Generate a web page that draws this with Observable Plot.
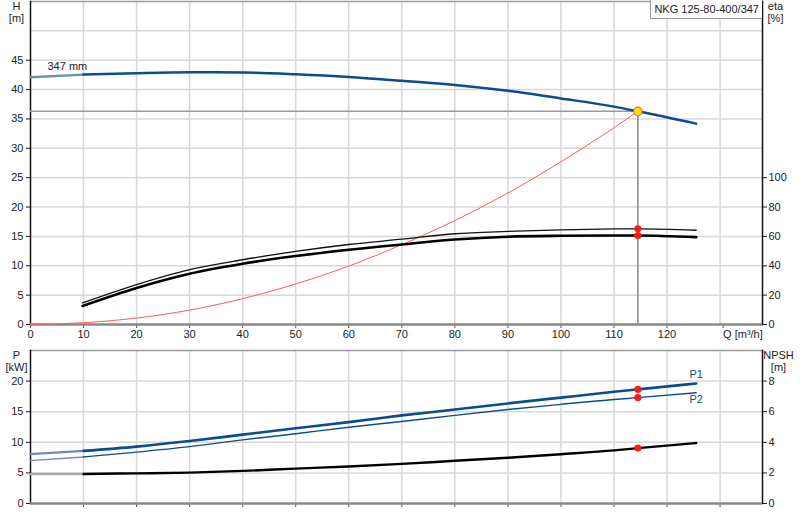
<!DOCTYPE html>
<html>
<head>
<meta charset="utf-8">
<script src="https://cdn.jsdelivr.net/npm/d3@7"></script>
<script src="https://cdn.jsdelivr.net/npm/@observablehq/plot@0.6"></script>
<style>
  body { margin: 0; background: white; }
  #chart { position: relative; width: 800px; height: 520px; font-family: "Liberation Sans", Arial, sans-serif; }
  #chart svg { position: absolute; left: 0; }
  #tag { position: absolute; right: 38px; top: 0px; height: 18px; border: 1px solid #999; border-top: none; border-right: none;
         padding: 0 3px; white-space: nowrap; font-size: 11px; line-height: 18px; color: #222; background: white; }
</style>
</head>
<body>
<div id="chart"></div>
<script>
// ---------- data ----------
const modelName = "NKG 125-80-400/347";
const impellerLabel = "347 mm";
const qDomain = [0, 138];
const qTicks = [0, 10, 20, 30, 40, 50, 60, 70, 80, 90, 100, 110, 120];
const qGrid = [10, 20, 30, 40, 50, 60, 70, 80, 90, 100, 110, 120, 130];
const hDomain = [0, 55];
const hTicks = [0, 5, 10, 15, 20, 25, 30, 35, 40, 45];
const hGrid = [5, 10, 15, 20, 25, 30, 35, 40, 45, 50];
const etaTicks = [0, 20, 40, 60, 80, 100];
const pDomain = [0, 25];
const pTicks = [0, 5, 10, 15, 20];
const npshTicks = [0, 2, 4, 6, 8];

// Q-H curve
const Q_H = [0, 10, 20, 30, 40, 50, 60, 70, 80, 90, 100, 110, 114.5, 125.5];
const H   = [42.1, 42.55, 42.8, 42.95, 42.9, 42.6, 42.15, 41.5, 40.8, 39.8, 38.5, 37.1, 36.3, 34.2];

// system curve
const Q_sys = [0, 10, 20, 30, 40, 50, 60, 70, 80, 90, 100, 110, 114.5];
const H_sys = [0, 0.3, 1.1, 2.45, 4.4, 6.9, 9.95, 13.6, 17.7, 22.4, 27.7, 33.5, 36.3];

// efficiency curves [%]
const Q_eta = [9.8, 20, 30, 40, 50, 60, 70, 80, 90, 100, 110, 114.5, 125.5];
const etaThin  = [14.7, 27.2, 37.4, 44.1, 49.8, 54.5, 58.1, 61.8, 63.4, 64.5, 65.1, 65.2, 64.2];
const etaThick = [12.6, 24.9, 34.6, 41.4, 46.6, 50.9, 54.5, 57.9, 59.8, 60.4, 60.6, 60.6, 59.5];

// power and NPSH
const Q_P = [0, 10, 20, 30, 40, 50, 60, 70, 80, 90, 100, 110, 114.5, 125.5];
const P1  = [8.06, 8.6, 9.3, 10.2, 11.25, 12.3, 13.3, 14.4, 15.35, 16.35, 17.3, 18.25, 18.65, 19.6];
const P2  = [7.0, 7.6, 8.4, 9.3, 10.4, 11.4, 12.45, 13.4, 14.4, 15.35, 16.2, 17.0, 17.3, 18.1];
const NPSH = [1.93, 1.93, 1.97, 2.02, 2.13, 2.28, 2.42, 2.59, 2.79, 2.99, 3.22, 3.47, 3.62, 3.95];

// operating point
const opQ = 114.5;
const opH = 36.3;
const opEta = [65.2, 60.6];
const opP = [18.65, 17.3];
const opNPSH = 3.62;

// ---------- helpers ----------
const etaToH = 25 / 100;     // eta 100 % aligns with H 25 m
const npshToP = 25 / 10;     // NPSH 10 m aligns with P 25 kW
const rows = (xs, ys, k = 1) => xs.map((x, i) => ({x, y: ys[i] * k}));
const blue = "#0b4c8c", blueLight = "#6f8cb3";
const gridH = {x1: qDomain[0], x2: qDomain[1], stroke: "#d8d8d8", strokeWidth: 1.5};
const fontStyle = {fontFamily: "'Liberation Sans', Arial, sans-serif", fontSize: "11px", color: "#222", background: "transparent"};

const hRows = rows(Q_H, H);
const p1Rows = rows(Q_P, P1), p2Rows = rows(Q_P, P2), npRows = rows(Q_P, NPSH, npshToP);
const early = r => r.x <= 10, late = r => r.x >= 10;

// ---------- top chart ----------
const topPlot = Plot.plot({
  width: 800, height: 345,
  marginTop: 1, marginLeft: 30, marginRight: 38, marginBottom: 21,
  x: {domain: qDomain},
  y: {domain: hDomain},
  style: fontStyle,
  marks: [
    Plot.ruleX(qGrid, {y1: hDomain[0], y2: hDomain[1], stroke: "#d8d8d8", strokeWidth: 1.5}),
    Plot.ruleY(hGrid, gridH),
    Plot.frame({anchor: "top", stroke: "#999", strokeWidth: 1.5}),
    Plot.axisY(hTicks, {anchor: "left", tickSize: 4, tickPadding: 3, label: null, stroke: "#222"}),
    Plot.axisY(etaTicks.map(e => e * etaToH), {anchor: "right", tickSize: 4, tickPadding: 2, label: null,
      tickFormat: d => Math.round(d / etaToH), stroke: "#222"}),
    Plot.axisX(qTicks, {tickSize: 4, tickPadding: 2, label: null, stroke: "#555"}),
    Plot.axisX([130], {tickSize: 4, tickPadding: 2, label: null, tickFormat: () => "Q [m³/h]", textAnchor: "start", dx: 3, stroke: "#555"}),
    Plot.frame({anchor: "left", stroke: "#111", strokeWidth: 1.5}),
    Plot.frame({anchor: "right", stroke: "#111", strokeWidth: 1.5}),
    Plot.ruleY([0], {x1: qDomain[0], x2: qDomain[1], stroke: "#888", strokeWidth: 2.5}),
    // operating point guides
    Plot.ruleY([opH], {x1: 0, x2: opQ, stroke: "#999", strokeWidth: 1.5}),
    Plot.ruleX([opQ], {y1: 0, y2: opH, stroke: "#888", strokeWidth: 1.5}),
    // system curve
    Plot.line(rows(Q_sys, H_sys), {x: "x", y: "y", stroke: "#ff5a5a", strokeWidth: 1, curve: "monotone-x"}),
    // efficiency curves
    Plot.line(rows(Q_eta, etaThin, etaToH), {x: "x", y: "y", stroke: "#111", strokeWidth: 1.3, curve: "monotone-x"}),
    Plot.line(rows(Q_eta, etaThick, etaToH), {x: "x", y: "y", stroke: "#000", strokeWidth: 2.6, curve: "monotone-x"}),
    // Q-H curve
    Plot.line(hRows.filter(early), {x: "x", y: "y", stroke: blueLight, strokeWidth: 2.3, curve: "monotone-x"}),
    Plot.line(hRows.filter(late), {x: "x", y: "y", stroke: blue, strokeWidth: 2.5, curve: "monotone-x"}),
    Plot.text([impellerLabel], {x: Q_H[0], y: H[0], dx: 17, dy: -11, textAnchor: "start", fill: "#222"}),
    // points
    Plot.dot(opEta, {x: () => opQ, y: d => d * etaToH, r: 3.6, fill: "#ff1a1a", stroke: "none"}),
    Plot.dot([opH], {x: () => opQ, y: d => d, r: 4.2, fill: "#ffe000", stroke: "#f07020", strokeWidth: 1.2}),
    // unit labels
    Plot.text(["H\n[m]"], {frameAnchor: "top-left", dx: -14, dy: 0, textAnchor: "middle", lineAnchor: "top", lineHeight: 1.1, fill: "#222"}),
    Plot.text(["eta\n[%]"], {frameAnchor: "top-right", dx: 13, dy: 0, textAnchor: "middle", lineAnchor: "top", lineHeight: 1.1, fill: "#222"})
  ]
});
topPlot.style.top = "0px";

// ---------- bottom chart ----------
const botPlot = Plot.plot({
  width: 800, height: 175,
  marginTop: 5, marginLeft: 30, marginRight: 38, marginBottom: 17,
  x: {domain: qDomain},
  y: {domain: pDomain},
  style: fontStyle,
  marks: [
    Plot.ruleX(qGrid, {y1: pDomain[0], y2: pDomain[1], stroke: "#d8d8d8", strokeWidth: 1.5}),
    Plot.ruleY(pTicks.slice(1), gridH),
    Plot.frame({anchor: "top", stroke: "#999", strokeWidth: 1.5}),
    Plot.axisY(pTicks, {anchor: "left", tickSize: 4, tickPadding: 3, label: null, stroke: "#222"}),
    Plot.axisY(npshTicks.map(n => n * npshToP), {anchor: "right", tickSize: 4, tickPadding: 2, label: null,
      tickFormat: d => Math.round(d / npshToP), stroke: "#222"}),
    Plot.axisX(qGrid, {tickSize: 4, label: null, tickFormat: () => "", stroke: "#555"}),
    Plot.frame({anchor: "left", stroke: "#111", strokeWidth: 1.5}),
    Plot.frame({anchor: "right", stroke: "#111", strokeWidth: 1.5}),
    Plot.ruleY([0], {x1: qDomain[0], x2: qDomain[1], stroke: "#888", strokeWidth: 2.5}),
    // NPSH
    Plot.line(npRows.filter(early), {x: "x", y: "y", stroke: "#aaa", strokeWidth: 2.4, curve: "monotone-x"}),
    Plot.line(npRows.filter(late), {x: "x", y: "y", stroke: "#000", strokeWidth: 2.4, curve: "monotone-x"}),
    // P2
    Plot.line(p2Rows.filter(early), {x: "x", y: "y", stroke: blueLight, strokeWidth: 1.4, curve: "monotone-x"}),
    Plot.line(p2Rows.filter(late), {x: "x", y: "y", stroke: blue, strokeWidth: 1.4, curve: "monotone-x"}),
    // P1
    Plot.line(p1Rows.filter(early), {x: "x", y: "y", stroke: blueLight, strokeWidth: 2.4, curve: "monotone-x"}),
    Plot.line(p1Rows.filter(late), {x: "x", y: "y", stroke: blue, strokeWidth: 2.6, curve: "monotone-x"}),
    // labels
    Plot.text(["P1"], {x: Q_P[Q_P.length - 1], y: P1[P1.length - 1], dy: -9, textAnchor: "middle", fill: blue}),
    Plot.text(["P2"], {x: Q_P[Q_P.length - 1], y: P2[P2.length - 1], dy: 7, textAnchor: "middle", fill: blue}),
    // points
    Plot.dot(opP, {x: () => opQ, y: d => d, r: 3.6, fill: "#ff1a1a", stroke: "none"}),
    Plot.dot([opNPSH], {x: () => opQ, y: d => d * npshToP, r: 3.6, fill: "#ff1a1a", stroke: "none"}),
    // unit labels
    Plot.text(["P\n[kW]"], {frameAnchor: "top-left", dx: -14, dy: 0, textAnchor: "middle", lineAnchor: "top", lineHeight: 1.1, fill: "#222"}),
    Plot.text(["NPSH\n[m]"], {frameAnchor: "top-right", dx: 16, dy: 0, textAnchor: "middle", lineAnchor: "top", lineHeight: 1.1, fill: "#222"})
  ]
});
botPlot.style.top = "345px";

const chart = document.getElementById("chart");
chart.append(topPlot, botPlot);
const tag = document.createElement("div");
tag.id = "tag";
tag.textContent = modelName;
chart.append(tag);
</script>
</body>
</html>
